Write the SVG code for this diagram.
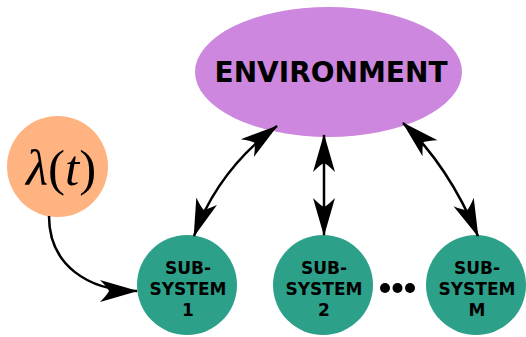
<svg xmlns="http://www.w3.org/2000/svg" width="526" height="337" viewBox="0 0 526 337">
<style>
.sub{fill:#2ca089}
.st{font-family:"DejaVu Sans",sans-serif;font-weight:bold;font-size:17px;fill:#000;text-anchor:middle}
.con{fill:none;stroke:#000;stroke-width:2.5}
</style>
<defs>
<marker id="ah" markerUnits="userSpaceOnUse" viewBox="-42 -14 46 28" refX="0" refY="0" markerWidth="46" markerHeight="28" orient="auto-start-reverse">
<path d="M1,0 L-37,-11 Q-30,-4 -28,0 Q-30,4 -37,11 Z" fill="#000"/>
</marker>
</defs>
<g id="environment">
<ellipse cx="328.5" cy="72" rx="133.5" ry="65" fill="#cd87de"/>
<text x="331" y="82" font-family="DejaVu Sans,sans-serif" font-weight="bold" font-size="28" text-anchor="middle">ENVIRONMENT</text>
</g>
<g id="lambda">
<circle cx="57.5" cy="166.5" r="50.5" fill="#ffb380"/>
<text x="61" y="185" font-family="Liberation Serif,serif" font-size="51" text-anchor="middle"><tspan font-style="italic">λ</tspan>(<tspan font-style="italic">t</tspan>)</text>
</g>
<g id="sub1">
<circle class="sub" cx="187" cy="285" r="50"/>
<text class="st" x="188" y="274">SUB-</text>
<text class="st" x="188" y="295">SYSTEM</text>
<text class="st" x="188" y="316">1</text>
</g>
<g id="sub2">
<circle class="sub" cx="323" cy="285" r="50"/>
<text class="st" x="324" y="274">SUB-</text>
<text class="st" x="324" y="295">SYSTEM</text>
<text class="st" x="324" y="316">2</text>
</g>
<g id="dots">
<circle cx="385" cy="288" r="5"/>
<circle cx="397.5" cy="288" r="5"/>
<circle cx="410" cy="288" r="5"/>
</g>
<g id="subM">
<circle class="sub" cx="476" cy="285" r="50"/>
<text class="st" x="477" y="274">SUB-</text>
<text class="st" x="477" y="295">SYSTEM</text>
<text class="st" x="477" y="316">M</text>
</g>
<g id="connectors">
<path class="con" d="M49,216 C49,265 88,291 137,291" marker-end="url(#ah)"/>
<path class="con" d="M277,126 Q218,170 194,236" marker-start="url(#ah)" marker-end="url(#ah)"/>
<path class="con" d="M324,135 L324,235" marker-start="url(#ah)" marker-end="url(#ah)"/>
<path class="con" d="M403,123 Q448,165 478,236" marker-start="url(#ah)" marker-end="url(#ah)"/>
</g>
</svg>
